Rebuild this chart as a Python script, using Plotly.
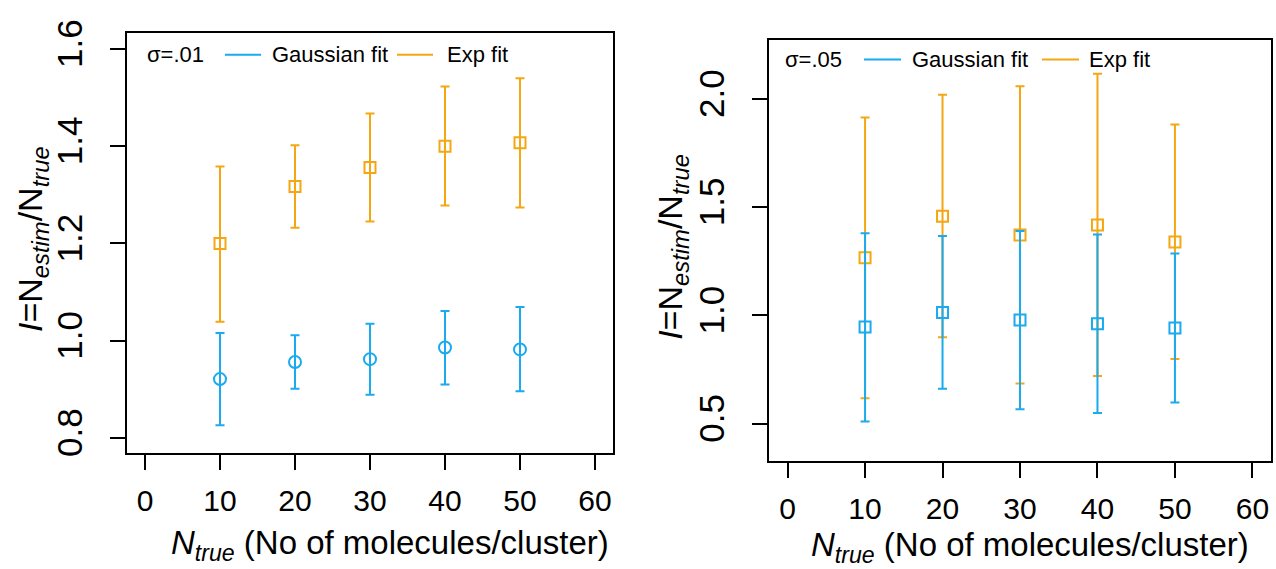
import plotly.graph_objects as go

W, H = 1276, 569

# ---------------- data ----------------
n_true = [10, 20, 30, 40, 50]

# sigma = .01 (left panel)
gauss01 = [0.921, 0.956, 0.962, 0.986, 0.982]
gauss01_hi = [1.016, 1.011, 1.035, 1.061, 1.069]
gauss01_lo = [0.826, 0.901, 0.889, 0.910, 0.896]
exp01 = [1.200, 1.317, 1.356, 1.400, 1.407]
exp01_hi = [1.358, 1.402, 1.467, 1.523, 1.540]
exp01_lo = [1.039, 1.232, 1.245, 1.278, 1.274]

# sigma = .05 (right panel)
gauss05 = [0.946, 1.013, 0.979, 0.961, 0.942]
gauss05_hi = [1.379, 1.366, 1.390, 1.374, 1.286]
gauss05_lo = [0.510, 0.661, 0.567, 0.549, 0.598]
exp05 = [1.266, 1.458, 1.371, 1.417, 1.339]
exp05_hi = [1.914, 2.019, 2.058, 2.116, 1.881]
exp05_lo = [0.617, 0.899, 0.686, 0.720, 0.799]

x_ticks = [0, 10, 20, 30, 40, 50, 60]
y_ticks_left = [0.8, 1.0, 1.2, 1.4, 1.6]
y_ticks_right = [0.5, 1.0, 1.5, 2.0]

BLUE = "#19AAF0"
ORANGE = "#F4A713"
FONT = "Liberation Sans, Arial, sans-serif"


def px(x):
    return x / W


def py(y):
    return 1 - y / H


def err_trace(x, y, hi, lo, color, symbol, size, xa, ya, name):
    return go.Scatter(
        x=x, y=y, mode="markers", name=name, showlegend=False,
        xaxis=xa, yaxis=ya,
        marker=dict(symbol=symbol, size=size, color=color,
                    line=dict(color=color, width=2)),
        error_y=dict(type="data", symmetric=False,
                     array=[h - v for h, v in zip(hi, y)],
                     arrayminus=[v - l for v, l in zip(y, lo)],
                     color=color, thickness=2, width=4.5),
    )


fig = go.Figure()
# left panel
fig.add_trace(err_trace(n_true, exp01, exp01_hi, exp01_lo, ORANGE, "square-open", 11, "x", "y", "Exp fit"))
fig.add_trace(err_trace(n_true, gauss01, gauss01_hi, gauss01_lo, BLUE, "circle-open", 12, "x", "y", "Gaussian fit"))
# right panel
fig.add_trace(err_trace(n_true, exp05, exp05_hi, exp05_lo, ORANGE, "square-open", 11, "x2", "y2", "Exp fit"))
fig.add_trace(err_trace(n_true, gauss05, gauss05_hi, gauss05_lo, BLUE, "square-open", 11, "x2", "y2", "Gaussian fit"))

axis_common = dict(
    showline=True, mirror=True, linecolor="black", linewidth=2,
    ticks="outside", ticklen=15, tickwidth=1.5, tickcolor="black",
    showgrid=False, zeroline=False,
)
xfont = dict(family=FONT, size=30, color="black")
yfont = dict(family=FONT, size=35, color="black")

fig.update_layout(
    width=W, height=H,
    margin=dict(l=0, r=0, t=0, b=0),
    paper_bgcolor="white", plot_bgcolor="white",
    font=dict(family=FONT, color="black"),
    xaxis=dict(domain=[px(127), px(613)], range=[-2.4, 62.4], anchor="y",
               tickvals=x_ticks, ticklabelstandoff=5, tickfont=xfont, **axis_common),
    yaxis=dict(domain=[py(453), py(20)], range=[0.768, 1.632], anchor="x",
               tickvals=y_ticks_left, ticktext=[f"{v:.1f}" for v in y_ticks_left],
               tickangle=-90, ticklabelstandoff=14, tickfont=yfont, **axis_common),
    xaxis2=dict(domain=[px(769), px(1271)], range=[-2.4, 62.4], anchor="y2",
                tickvals=x_ticks, ticklabelstandoff=5, tickfont=xfont, **axis_common),
    yaxis2=dict(domain=[py(460.7), py(26.7)], range=[0.328, 2.272], anchor="x2",
                tickvals=y_ticks_right, ticktext=[f"{v:.1f}" for v in y_ticks_right],
                tickangle=-90, ticklabelstandoff=14, tickfont=yfont, **axis_common),
)

ytitle = "<i>I</i>=N<sub><i>estim</i></sub>/N<sub><i>true</i></sub>"
xtitle = "<i>N</i><sub><i>true</i></sub> (No of molecules/cluster)"
ann = []
ann.append(dict(text=ytitle, x=px(32), y=py(232), xref="paper", yref="paper",
                textangle=-90, showarrow=False, xanchor="center", yanchor="middle",
                font=dict(size=34, family=FONT, color="black")))
ann.append(dict(text=ytitle, x=px(673), y=py(240), xref="paper", yref="paper",
                textangle=-90, showarrow=False, xanchor="center", yanchor="middle",
                font=dict(size=34, family=FONT, color="black")))
ann.append(dict(text=xtitle, x=px(390), y=py(547), xref="paper", yref="paper",
                showarrow=False, xanchor="center", yanchor="middle",
                font=dict(size=33, family=FONT, color="black")))
ann.append(dict(text=xtitle, x=px(1030), y=py(549), xref="paper", yref="paper",
                showarrow=False, xanchor="center", yanchor="middle",
                font=dict(size=33, family=FONT, color="black")))

# legends (drawn inside each panel)
legend_specs = [
    ("σ=.01", 145, 42, (225, 261), 270, (397, 433), 445),
    ("σ=.05", 783, 47, (864, 901), 910, (1042, 1079), 1087),
]
shapes = []
for lab, sx, sy, bl, gx, ol, ex in legend_specs:
    for t, xx in [(lab, sx), ("Gaussian fit", gx), ("Exp fit", ex)]:
        ann.append(dict(text=t, x=px(xx), y=py(sy), xref="paper", yref="paper",
                        showarrow=False, xanchor="left", yanchor="middle",
                        font=dict(size=22, family=FONT, color="black")))
    shapes.append(dict(type="line", xref="paper", yref="paper",
                       x0=px(bl[0]), x1=px(bl[1]), y0=py(sy), y1=py(sy),
                       line=dict(color=BLUE, width=2)))
    shapes.append(dict(type="line", xref="paper", yref="paper",
                       x0=px(ol[0]), x1=px(ol[1]), y0=py(sy), y1=py(sy),
                       line=dict(color=ORANGE, width=2)))

fig.update_layout(annotations=ann, shapes=shapes)
fig.write_html("out.html")
